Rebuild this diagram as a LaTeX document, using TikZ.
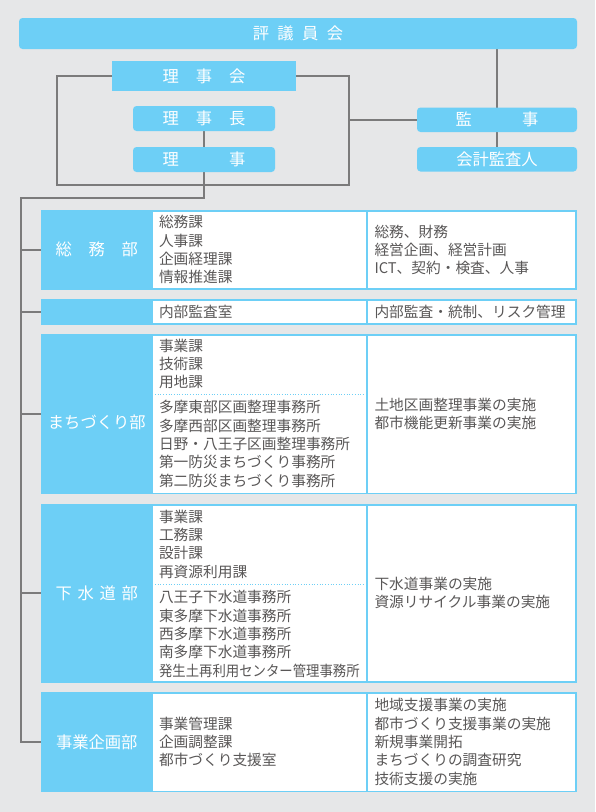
\documentclass[tikz,border=0pt]{standalone}
\usepackage{fontspec}
\usepackage{graphicx}
\usetikzlibrary{positioning,calc,backgrounds}
\newfontfamily\jp{Noto Sans CJK JP}
\definecolor{skyblue}{HTML}{6DCFF6}
\definecolor{bggray}{HTML}{E6E7E8}
\definecolor{linegray}{HTML}{7B7B7B}
\definecolor{txtgray}{HTML}{595757}

\begin{document}
\begin{tikzpicture}[x=1pt, y=-1pt,
	every node/.style={inner sep=0pt, outer sep=0pt},
	topbox/.style={fill=skyblue, text=white, anchor=north west, font=\jp\fontsize{16.3}{16.3}\selectfont},
	roundbox/.style={topbox, rounded corners=3.5pt},
	deptbox/.style={fill=skyblue, anchor=north west, minimum width=535.5},
	deptname/.style={text=white, font=\jp\fontsize{16.3}{16.3}\selectfont},
	cell/.style={fill=white, anchor=north west, align=left, text=txtgray, font=\jp\fontsize{14.7}{18.3}\selectfont},
	midcell/.style={cell, minimum width=213.5, text width=200.5, inner xsep=6.5},
	rightcell/.style={cell, minimum width=207.5, text width=193.5, inner xsep=7},
	items/.style={anchor=west, align=left, text=txtgray, font=\jp\fontsize{14.7}{18.3}\selectfont},
	orgline/.style={draw=linegray, line width=2.2pt},
	sepline/.style={draw=skyblue, line width=1pt, dash pattern=on 1pt off 1.7pt}]

	\useasboundingbox (0,0) rectangle (595,812);

	\node[roundbox, minimum width=558, minimum height=31] (hyogi) at (19,18) {評\hspace{8.4pt}議\hspace{8.4pt}員\hspace{8.4pt}会};

	\node[topbox, minimum width=184, minimum height=30] (rijikai) at (112,61) {理\hspace{16.9pt}事\hspace{16.9pt}会};
	\node[roundbox, minimum width=142, minimum height=25] (richo) at (133,106) {理\hspace{16.9pt}事\hspace{16.9pt}長};
	\node[roundbox, minimum width=142, minimum height=25, below=16pt of richo] (riji) {理\hspace{50pt}事};

	\node[roundbox, minimum width=160, minimum height=24.5] (kanji) at (417,107.5) {監\hspace{50pt}事};
	\node[roundbox, minimum width=160, minimum height=24.5, below=15pt of kanji] (kaikei) {会計監査人};

	\coordinate (loopL) at (57,185);
	\coordinate (loopR) at (349,185);
	\coordinate (trunk) at (21,198);

	\node[deptbox, minimum height=79.5] (soumu) at (41,210) {};
	\node[deptname] (soumu-name) at ([xshift=55.8pt]soumu.west) {総\hspace{16.7pt}務\hspace{16.7pt}部};
	\node[midcell, minimum height=76.5] (soumu-org) at ([shift={(111.5pt,-1.5pt)}]soumu.north west) {総務課\\人事課\\企画経理課\\情報推進課};
	\node[rightcell, minimum height=76.5, right=1.5pt of soumu-org] (soumu-gyomu) {総務、財務\\経営企画、経営計画\\ICT、契約・検査、人事};

	\node[deptbox, minimum height=25.5] (naibu) at (41,299) {};
	\node[midcell, minimum height=22.5] (naibu-org) at ([shift={(111.5pt,-1.5pt)}]naibu.north west) {内部監査室};
	\node[rightcell, minimum height=22.5, right=1.5pt of naibu-org] (naibu-gyomu) {内部監査・統制、リスク管理};

	\node[deptbox, minimum height=160] (machi) at (41,334) {};
	\node[deptname] (machi-name) at ([xshift=55.8pt,yshift=-8.7pt]machi.west) {まちづくり部};
	\node[midcell, minimum height=157] (machi-org) at ([shift={(111.5pt,-1.5pt)}]machi.north west) {};
	\node[rightcell, minimum height=157, right=1.5pt of machi-org] (machi-gyomu) {土地区画整理事業の実施\\都市機能更新事業の実施};
	\node[items] (machi-ka) at (159,364) {事業課\\技術課\\用地課};
	\node[items] (machi-jimu) at (159,444) {多摩東部区画整理事務所\\多摩西部区画整理事務所\\日野・八王子区画整理事務所\\第一防災まちづくり事務所\\第二防災まちづくり事務所};
	\coordinate (machi-sep) at (0,394);
	\draw[sepline] ($(machi-org.west |- machi-sep)+(2.5,0)$) -- ($(machi-org.east |- machi-sep)+(-2,0)$);

	\node[deptbox, minimum height=178.5] (gesui) at (41,504) {};
	\node[deptname] (gesui-name) at ([xshift=55.8pt]gesui.west) {下\hspace{5.7pt}水\hspace{5.7pt}道\hspace{5.7pt}部};
	\node[midcell, minimum height=175.5] (gesui-org) at ([shift={(111.5pt,-1.5pt)}]gesui.north west) {};
	\node[rightcell, minimum height=175.5, right=1.5pt of gesui-org] (gesui-gyomu) {下水道事業の実施\\資源リサイクル事業の実施};
	\node[items] (gesui-ka) at (159,544.2) {事業課\\工務課\\設計課\\再資源利用課};
	\node[items] (gesui-jimu) at (159,634) {八王子下水道事務所\\東多摩下水道事務所\\西多摩下水道事務所\\南多摩下水道事務所\\\scalebox{0.91}[1]{発生土再利用センター管理事務所}};
	\coordinate (gesui-sep) at (0,584.7);
	\draw[sepline] ($(gesui-org.west |- gesui-sep)+(2.5,0)$) -- ($(gesui-org.east |- gesui-sep)+(-2,0)$);

	\node[deptbox, minimum height=100] (kikaku) at (41,692) {};
	\node[deptname] (kikaku-name) at ([xshift=55.8pt]kikaku.west) {事業企画部};
	\node[midcell, minimum height=97] (kikaku-org) at ([shift={(111.5pt,-1.5pt)}]kikaku.north west) {事業管理課\\企画調整課\\都市づくり支援室};
	\node[rightcell, minimum height=97, right=1.5pt of kikaku-org] (kikaku-gyomu) {地域支援事業の実施\\都市づくり支援事業の実施\\新規事業開拓\\まちづくりの調査研究\\技術支援の実施};

	\begin{scope}[on background layer]
		\fill[bggray] (0,0) rectangle (595,812);
		\draw[orgline] (rijikai.west) -| (loopL) -- (loopR) |- (rijikai.east);
		\draw[orgline] (kanji.west) -- (kanji.west -| loopR);
		\draw[orgline] (kanji.north |- hyogi.south) -- (kaikei.north);
		\draw[orgline] (richo.south) -- (riji.north);
		\draw[orgline] (riji.south) |- (trunk) |- (kikaku.west);
		\foreach \dept in {soumu,naibu,machi,gesui}
			\draw[orgline] (trunk |- \dept.west) -- (\dept.west);
	\end{scope}
\end{tikzpicture}
\end{document}
